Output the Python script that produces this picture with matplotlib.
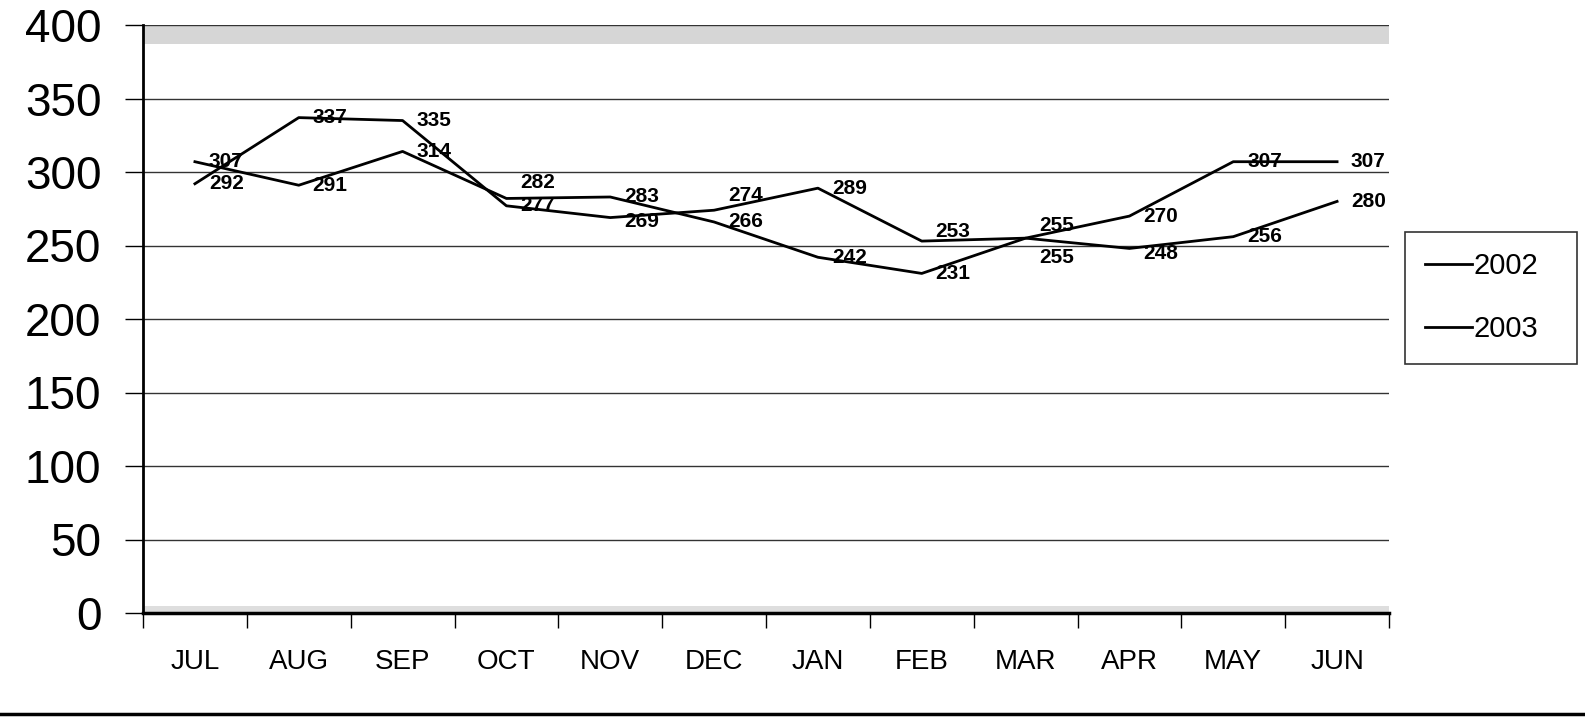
import matplotlib
matplotlib.use("Agg")
import matplotlib.pyplot as plt
from matplotlib.lines import Line2D

# monthly values
months = ['JUL', 'AUG', 'SEP', 'OCT', 'NOV', 'DEC',
          'JAN', 'FEB', 'MAR', 'APR', 'MAY', 'JUN']
vals_2002 = [307, 291, 314, 282, 283, 266, 242, 231, 255, 270, 307, 307]
vals_2003 = [292, 337, 335, 277, 269, 274, 289, 253, 255, 248, 256, 280]
y_ticks = [0, 50, 100, 150, 200, 250, 300, 350, 400]

# vertical nudges (pixels) for labels that sit off their point in the original
nudge_2002 = {3: 16, 8: 13}
nudge_2003 = {4: -4, 5: 15, 7: 10, 8: -19, 9: -5}

plt.rcParams['font.family'] = ['Liberation Sans', 'DejaVu Sans']

fig = plt.figure(figsize=(15.85, 7.19), dpi=100)
ax = fig.add_axes([143/1585, 1-613/719, (1389-143)/1585, (613-25)/719])

x = [i + 0.5 for i in range(len(months))]
l1, = ax.plot(x, vals_2002, color='black', lw=2, label='2002')
l2, = ax.plot(x, vals_2003, color='black', lw=2, label='2003')

# data labels, to the right of each point
for vals, nudge in ((vals_2002, nudge_2002), (vals_2003, nudge_2003)):
    for i, v in enumerate(vals):
        dy = nudge.get(i, 0) * 0.72
        ax.annotate(str(v), (x[i], v), xytext=(10, dy), textcoords='offset points',
                    ha='left', va='center', fontsize=15, fontweight='bold')

# the greyish scan shading along top and bottom of the plot area
ax.axhspan(387, 400, color='0.84', lw=0, zorder=0)
ax.axhspan(0, 5, color='0.87', lw=0, zorder=0)

ax.set_xlim(0, 12)
ax.set_ylim(0, 400)
ax.set_yticks(y_ticks)
ax.set_yticklabels([str(t) for t in y_ticks], fontsize=33)
ax.set_xticks(range(13))
ax.set_xticklabels([])
ax.set_xticks(x, minor=True)
ax.set_xticklabels(months, minor=True, fontsize=20)
ax.tick_params(axis='x', which='minor', length=0, pad=26)
ax.tick_params(axis='x', which='major', length=11, width=1)
ax.tick_params(axis='y', length=13, width=1, pad=17)

ax.grid(axis='y', color='0.2', lw=1)
ax.set_axisbelow(True)
for s in ('top', 'right'):
    ax.spines[s].set_visible(False)
ax.spines['left'].set_linewidth(2)
ax.spines['bottom'].set_linewidth(2.5)

leg = fig.legend(handles=[l1, l2], loc='upper left', mode='expand',
                 bbox_to_anchor=(1405/1585, 1-357/719, 172/1585, 125/719),
                 bbox_transform=fig.transFigure,
                 frameon=True, fancybox=False, edgecolor='black', fontsize=21,
                 handlelength=1.6, handletextpad=0.05, labelspacing=1.2,
                 borderpad=0.7, borderaxespad=0)
leg.get_frame().set_linewidth(1.2)

# scan border line along the bottom of the page
fig.add_artist(Line2D([0, 1], [1-714/719, 1-714/719], color='black', lw=2.5,
                      transform=fig.transFigure))

fig.savefig('out.png', dpi=100)
